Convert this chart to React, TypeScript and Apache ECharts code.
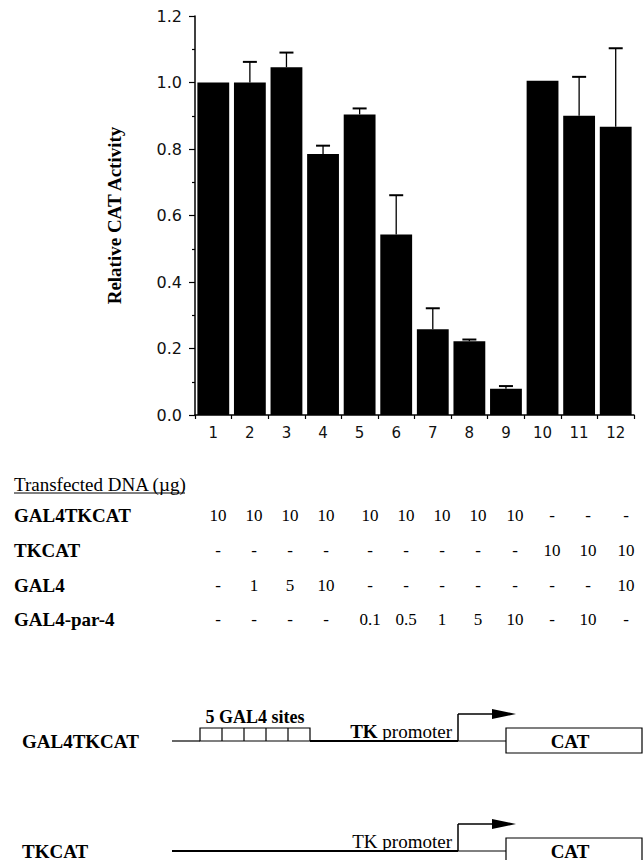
import React, { useEffect, useRef } from "react";
import * as echarts from "echarts";

// ---------------- data ----------------
const lanes = ["1", "2", "3", "4", "5", "6", "7", "8", "9", "10", "11", "12"];
const activity = [1.0, 1.0, 1.046, 0.785, 0.904, 0.543, 0.258, 0.222, 0.079, 1.005, 0.9, 0.867];
const errorPlus = [0, 0.062, 0.044, 0.025, 0.018, 0.118, 0.063, 0.005, 0.008, 0, 0.117, 0.236];

const yAxisTitle = "Relative CAT Activity";
const tableHeader = "Transfected DNA (µg)";
const rowNames = ["GAL4TKCAT", "TKCAT", "GAL4", "GAL4-par-4"];
const rowGAL4TKCAT = ["10", "10", "10", "10", "10", "10", "10", "10", "10", "-", "-", "-"];
const rowTKCAT = ["-", "-", "-", "-", "-", "-", "-", "-", "-", "10", "10", "10"];
const rowGAL4 = ["-", "1", "5", "10", "-", "-", "-", "-", "-", "-", "-", "10"];
const rowGAL4par4 = ["-", "-", "-", "-", "0.1", "0.5", "1", "5", "10", "-", "10", "-"];
const tableRows = [rowGAL4TKCAT, rowTKCAT, rowGAL4, rowGAL4par4];

const constructNames = ["GAL4TKCAT", "TKCAT"];
const sitesLabel = "5 GAL4 sites";
const promoterLabel = "TK promoter";
const reporterLabel = "CAT";

// ---------------- layout ----------------
const SERIF = "'Liberation Serif', 'Times New Roman', serif";
const SANS = "'DejaVu Sans', sans-serif";
const colX = [218, 254, 290, 326, 370, 406, 442, 478, 515, 552, 588, 626];
const headerY = 484;
const rowY = [515, 550, 585, 619];

function buildGraphics() {
  const g: any[] = [];
  // table header
  g.push({
    type: "text",
    x: 14,
    y: headerY,
    style: { text: tableHeader, fontFamily: SERIF, fontSize: 19, fill: "#000", align: "left", verticalAlign: "middle" },
  });
  g.push({ type: "line", shape: { x1: 14, y1: headerY + 9, x2: 185, y2: headerY + 9 }, style: { stroke: "#000", lineWidth: 1 } });
  rowNames.forEach((name, r) => {
    g.push({
      type: "text",
      x: 14,
      y: rowY[r],
      style: { text: name, fontFamily: SERIF, fontWeight: "bold", fontSize: 19, fill: "#000", align: "left", verticalAlign: "middle" },
    });
    tableRows[r].forEach((v, c) => {
      g.push({
        type: "text",
        x: colX[c],
        y: rowY[r],
        style: { text: v, fontFamily: SERIF, fontSize: 17, fill: "#000", align: "center", verticalAlign: "middle" },
      });
    });
  });

  // construct diagrams
  const rows = [
    { y: 741, name: constructNames[0], sites: true, boldTK: true },
    { y: 851, name: constructNames[1], sites: false, boldTK: false },
  ];
  rows.forEach((d) => {
    const y = d.y;
    g.push({
      type: "text",
      x: 22,
      y: y,
      style: { text: d.name, fontFamily: SERIF, fontWeight: "bold", fontSize: 19, fill: "#000", align: "left", verticalAlign: "middle" },
    });
    if (d.sites) {
      g.push({ type: "line", shape: { x1: 172, y1: y, x2: 200, y2: y }, style: { stroke: "#000", lineWidth: 1.2 } });
      g.push({ type: "rect", shape: { x: 200, y: y - 13, width: 110, height: 13 }, style: { fill: "#fff", stroke: "#000", lineWidth: 1.2 } });
      [222, 244, 266, 288].forEach((sx) =>
        g.push({ type: "line", shape: { x1: sx, y1: y - 13, x2: sx, y2: y }, style: { stroke: "#000", lineWidth: 1.2 } })
      );
      g.push({
        type: "text",
        x: 255,
        y: y - 24,
        style: { text: sitesLabel, fontFamily: SERIF, fontWeight: "bold", fontSize: 18, fill: "#000", align: "center", verticalAlign: "middle" },
      });
      g.push({ type: "line", shape: { x1: 310, y1: y, x2: 458, y2: y }, style: { stroke: "#000", lineWidth: 2 } });
    } else {
      g.push({ type: "line", shape: { x1: 172, y1: y, x2: 458, y2: y }, style: { stroke: "#000", lineWidth: 2.2 } });
    }
    g.push({ type: "line", shape: { x1: 458, y1: y, x2: 506, y2: y }, style: { stroke: "#000", lineWidth: 1 } });
    // promoter label
    g.push({
      type: "text",
      x: 452,
      y: y - 10,
      style: {
        text: d.boldTK ? "{b|TK} promoter" : promoterLabel,
        fontFamily: SERIF,
        fontSize: 19,
        fill: "#000",
        align: "right",
        verticalAlign: "middle",
        rich: { b: { fontFamily: SERIF, fontWeight: "bold", fontSize: 19, fill: "#000" } },
      },
    });
    // transcription start arrow
    const ay = y - 27;
    g.push({ type: "line", shape: { x1: 458, y1: y, x2: 458, y2: ay }, style: { stroke: "#000", lineWidth: 1.5 } });
    g.push({ type: "line", shape: { x1: 458, y1: ay, x2: 494, y2: ay }, style: { stroke: "#000", lineWidth: 1.5 } });
    g.push({ type: "polygon", shape: { points: [[492, ay - 5], [516, ay], [492, ay + 5]] }, style: { fill: "#000" } });
    // CAT box
    g.push({ type: "rect", shape: { x: 506, y: y - 13, width: 136, height: 25 }, style: { fill: "#fff", stroke: "#000", lineWidth: 1.2 } });
    g.push({
      type: "text",
      x: 570,
      y: y,
      style: { text: reporterLabel, fontFamily: SERIF, fontWeight: "bold", fontSize: 19, fill: "#000", align: "center", verticalAlign: "middle" },
    });
  });
  return g;
}

export default function App() {
  const ref = useRef<HTMLDivElement>(null);
  useEffect(() => {
    const chart = echarts.init(ref.current as HTMLDivElement, null, { renderer: "svg" });
    const errData = activity.map((v, i) => [i, v, v + errorPlus[i], errorPlus[i]]);
    chart.setOption({
      animation: false,
      backgroundColor: "#fff",
      grid: { left: 195, right: 10, top: 16, bottom: 445, containLabel: false },
      xAxis: {
        type: "category",
        data: lanes,
        axisLine: { lineStyle: { color: "#000", width: 1.5 } },
        axisTick: { show: true, length: 4, lineStyle: { color: "#000", width: 1.2 } },
        axisLabel: { color: "#111", fontFamily: SANS, fontSize: 15, margin: 10 },
      },
      yAxis: {
        type: "value",
        min: 0,
        max: 1.2,
        interval: 0.2,
        name: yAxisTitle,
        nameLocation: "middle",
        nameRotate: 90,
        nameGap: 71,
        nameTextStyle: { fontFamily: SERIF, fontWeight: "bold", fontSize: 19, color: "#000" },
        axisLine: { show: true, lineStyle: { color: "#000", width: 1.5 } },
        axisTick: { show: true, length: 6, lineStyle: { color: "#000", width: 1.2 } },
        minorTick: { show: true, splitNumber: 2, length: 3, lineStyle: { color: "#000", width: 1.2 } },
        splitLine: { show: false },
        axisLabel: {
          color: "#111",
          fontFamily: SANS,
          fontSize: 16,
          margin: 13,
          formatter: (v: number) => v.toFixed(1),
        },
      },
      series: [
        {
          type: "bar",
          data: activity,
          barCategoryGap: "13%",
          itemStyle: { color: "#000" },
        },
        {
          type: "custom",
          data: errData,
          z: 5,
          renderItem: (params: any, api: any) => {
            const e = api.value(3);
            if (!e) return { type: "group", children: [] };
            const base = api.coord([api.value(0), api.value(1)]);
            const top = api.coord([api.value(0), api.value(2)]);
            return {
              type: "group",
              children: [
                { type: "line", shape: { x1: base[0], y1: base[1], x2: top[0], y2: top[1] }, style: { stroke: "#000", lineWidth: 1.3 } },
                { type: "line", shape: { x1: top[0] - 7, y1: top[1], x2: top[0] + 7, y2: top[1] }, style: { stroke: "#000", lineWidth: 2 } },
              ],
            };
          },
        },
      ],
      graphic: buildGraphics(),
    });
    return () => chart.dispose();
  }, []);
  return <div ref={ref} style={{ position: "absolute", left: 0, top: 0, width: 644, height: 860 }} />;
}
